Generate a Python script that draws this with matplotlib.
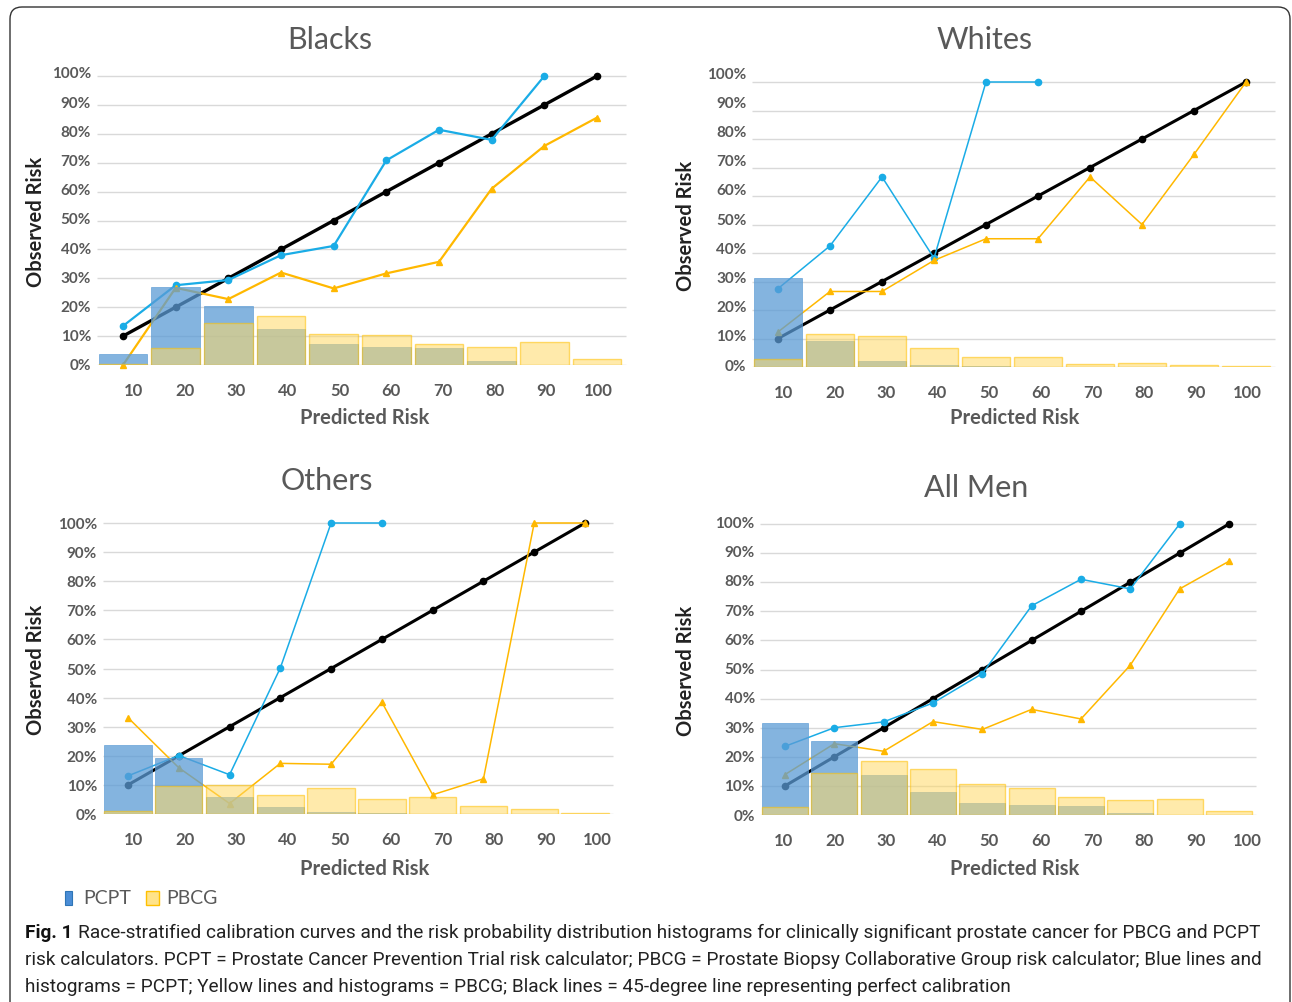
import numpy as np
import matplotlib
matplotlib.use('Agg')
import matplotlib.pyplot as plt
from matplotlib.patches import FancyBboxPatch, Rectangle
from matplotlib.transforms import IdentityTransform

W, H = 1292, 1003
plt.rcParams['font.family'] = ['Lato', 'DejaVu Sans']
GREY = '#595959'

# predicted risk bins and the 45-degree reference
bins = [10, 20, 30, 40, 50, 60, 70, 80, 90, 100]
perfect = [10, 20, 30, 40, 50, 60, 70, 80, 90, 100]

# Blacks
blacks_pcpt_obs = [13.5, 27.6, 29.4, 38.0, 41.2, 70.8, 81.4, 77.9, 100.0]
blacks_pbcg_obs = [0.0, 26.7, 22.8, 32.0, 26.5, 31.7, 35.7, 61.0, 75.8, 85.6]
blacks_pcpt_hist = [3.8, 27.0, 20.3, 12.4, 7.1, 6.1, 5.8, 1.4, 0.0, 0.0]
blacks_pbcg_hist = [0.3, 6.0, 14.4, 17.0, 10.8, 10.3, 7.4, 6.2, 8.1, 2.1]

# Whites
whites_pcpt_obs = [27.5, 42.5, 66.7, 38.2, 100.0, 100.0]
whites_pbcg_obs = [12.3, 26.5, 26.5, 37.4, 45.0, 45.0, 66.7, 50.0, 74.6, 100.0]
whites_pcpt_hist = [31.2, 9.0, 2.2, 0.8, 0.3, 0.0, 0.0, 0.0, 0.0, 0.0]
whites_pbcg_hist = [2.7, 11.6, 11.0, 6.7, 3.6, 3.6, 0.9, 1.4, 0.8, 0.2]

# Others
others_pcpt_obs = [13.1, 20.1, 13.5, 50.2, 100.0, 100.0]
others_pbcg_obs = [33.1, 15.9, 3.6, 17.4, 17.1, 38.4, 6.6, 12.1, 100.0, 100.0]
others_pcpt_hist = [23.8, 19.3, 5.9, 2.4, 0.6, 0.2, 0.0, 0.0, 0.0, 0.0]
others_pbcg_hist = [1.0, 9.7, 9.8, 6.4, 8.9, 5.1, 5.9, 2.9, 1.8, 0.2]

# All Men
all_pcpt_obs = [23.6, 30.0, 32.0, 38.5, 48.6, 71.9, 81.0, 77.7, 100.0]
all_pbcg_obs = [13.9, 24.5, 21.9, 32.1, 29.4, 36.3, 33.0, 51.5, 77.7, 87.2]
all_pcpt_hist = [31.6, 25.3, 13.6, 7.9, 4.2, 3.3, 3.0, 0.8, 0.1, 0.0]
all_pbcg_hist = [2.7, 14.4, 18.4, 15.7, 10.5, 9.4, 6.1, 5.1, 5.6, 1.5]

titles = ['Blacks', 'Whites', 'Others', 'All Men']

fig = plt.figure(figsize=(W / 100, H / 100), dpi=100)

# layout in pixels: centre of bin 1, centre of bin 10, y of 0%, y of 100%,
# title pos, x tick label span, y tick label span, ylabel x, xlabel (x, y), line widths
panels = [
    dict(data=(blacks_pcpt_obs, blacks_pbcg_obs, blacks_pcpt_hist, blacks_pbcg_hist),
         xc=(123, 597), yp=(366, 77), tpos=(330, 40), xt=(1.19, 10.02), yt=(0.35, 101.4),
         ylx=46, xl=(365, 418), lw=(2.4, 1.6)),
    dict(data=(whites_pcpt_obs, whites_pbcg_obs, whites_pcpt_hist, whites_pbcg_hist),
         xc=(778, 1246), yp=(368, 83), tpos=(985, 40), xt=(1.1, 10.02), yt=(1.05, 103.5),
         ylx=696, xl=(1015, 418), lw=(2.2, 1.1)),
    dict(data=(others_pcpt_obs, others_pbcg_obs, others_pcpt_hist, others_pbcg_hist),
         xc=(128, 585), yp=(815, 524), tpos=(327, 481), xt=(1.1, 10.25), yt=(0.0, 100.3),
         ylx=46, xl=(365, 869), lw=(2.2, 1.1)),
    dict(data=(all_pcpt_obs, all_pbcg_obs, all_pcpt_hist, all_pbcg_hist),
         xc=(785, 1229), yp=(816, 525), tpos=(976, 488), xt=(0.96, 10.37), yt=(0.3, 101.0),
         ylx=696, xl=(1015, 869), lw=(2.2, 1.1)),
]

x = np.arange(1, 11)
for title, p in zip(titles, panels):
    pcpt_obs, pbcg_obs, pcpt_hist, pbcg_hist = p['data']
    slot = (p['xc'][1] - p['xc'][0]) / 9
    left = p['xc'][0] - 0.5 * slot
    right = p['xc'][1] + 0.6 * slot
    unit = (p['yp'][0] - p['yp'][1]) / 100
    bottom = p['yp'][0]
    top = bottom - 105 * unit
    ax = fig.add_axes([left / W, 1 - bottom / H, (right - left) / W, (bottom - top) / H])
    ax.set_xlim(0.5, 10.6)
    ax.set_ylim(0, 105)

    ax.hlines(np.arange(0, 101, 10), 0.5, 10.55, color='#D9D9D9', lw=1.0, zorder=0)

    lw_k, lw_c = p['lw']
    ax.plot(x, perfect, color='black', lw=lw_k, marker='o', ms=4.5, zorder=2, clip_on=False)
    ax.plot(x[:len(pcpt_obs)], pcpt_obs, color='#1AACE6', lw=lw_c, marker='o', ms=4.5,
            zorder=2, clip_on=False)
    ax.plot(x[:len(pbcg_obs)], pbcg_obs, color='#FFB800', lw=lw_c, marker='^', ms=5,
            zorder=2, clip_on=False)

    ax.bar(x, pcpt_hist, width=0.93, color='#5B9BD5', alpha=0.75, edgecolor='#5B9BD5',
           lw=0.6, zorder=3)
    ax.bar(x, pbcg_hist, width=0.93, color='#FFD966', alpha=0.55, edgecolor='#FFC000',
           lw=1.0, zorder=4)

    for s in ax.spines.values():
        s.set_visible(False)
    ax.set_xticks(np.linspace(p['xt'][0], p['xt'][1], 10), labels=[str(b) for b in bins])
    ax.set_yticks(np.linspace(p['yt'][0], p['yt'][1], 11),
                  labels=['%d%%' % v for v in range(0, 101, 10)])
    ax.tick_params(axis='x', length=0, pad=12, labelsize=12, labelcolor=GREY)
    ax.tick_params(axis='y', length=0, pad=4, labelsize=11, labelcolor=GREY)
    for lbl in ax.get_xticklabels() + ax.get_yticklabels():
        lbl.set_fontweight('bold')

    ax.set_ylabel('Observed Risk', fontsize=14.5, fontweight='bold', color='#222222')
    ax.yaxis.set_label_coords(p['ylx'] / W, 1 - (p['yp'][0] + p['yp'][1]) / 2 / H,
                              transform=fig.transFigure)
    ax.set_xlabel('Predicted Risk', fontsize=14.5, fontweight='bold', color=GREY)
    ax.xaxis.set_label_coords(p['xl'][0] / W, 1 - p['xl'][1] / H, transform=fig.transFigure)
    ax.xaxis.label.set_va('center')

    fig.text(p['tpos'][0] / W, 1 - p['tpos'][1] / H, title, ha='center', va='center',
             fontsize=22, color=GREY)

# legend
fig.patches.append(Rectangle((65 / W, 1 - 906 / H), 7 / W, 14 / H, transform=fig.transFigure,
                             facecolor='#4A8DD6', edgecolor='#2E75B6', lw=0.8))
fig.text(83 / W, 1 - 899 / H, 'PCPT', fontsize=14, color=GREY, va='center')
fig.patches.append(Rectangle((146 / W, 1 - 906 / H), 13 / W, 14 / H, transform=fig.transFigure,
                             facecolor='#FFE38A', edgecolor='#FFC000', lw=1.0))
fig.text(166 / W, 1 - 899 / H, 'PBCG', fontsize=14, color=GREY, va='center')

# caption
cap_font = ['Liberation Sans Narrow', 'Roboto', 'DejaVu Sans']
cap_lines = [
    'Race-stratified calibration curves and the risk probability distribution histograms for '
    'clinically significant prostate cancer for PBCG and PCPT',
    'risk calculators. PCPT = Prostate Cancer Prevention Trial risk calculator; PBCG = Prostate '
    'Biopsy Collaborative Group risk calculator; Blue lines and',
    'histograms = PCPT; Yellow lines and histograms = PBCG; Black lines = 45-degree line '
    'representing perfect calibration',
]
cap_y = [933, 960, 987]
fs = 14
t_fig = fig.text(25 / W, 1 - cap_y[0] / H, 'Fig. 1', fontweight='bold', family=cap_font,
                 fontsize=fs, va='center', color='#111111')
t_lines = []
for i, line in enumerate(cap_lines):
    t_lines.append(fig.text((25 if i else 80) / W, 1 - cap_y[i] / H, line, family=cap_font,
                            fontsize=fs, va='center', color='#222222'))
fig.canvas.draw()
r = fig.canvas.get_renderer()
w_fig = t_fig.get_window_extent(r).width
w_1 = t_lines[0].get_window_extent(r).width
scale = 1247 / (w_fig + 6 + w_1)
for t in [t_fig] + t_lines:
    t.set_fontsize(fs * scale)
fig.canvas.draw()
w_fig = t_fig.get_window_extent(r).width
t_lines[0].set_x((25 + w_fig + 6 * scale) / W)

# rounded frame around the figure
fig.patches.append(FancyBboxPatch((10, -12), 1280, H - 8 + 12,
                                  boxstyle='round,pad=0,rounding_size=12',
                                  transform=IdentityTransform(), fill=False,
                                  edgecolor='#333333', lw=1.0))

fig.savefig('out.png', dpi=100)
